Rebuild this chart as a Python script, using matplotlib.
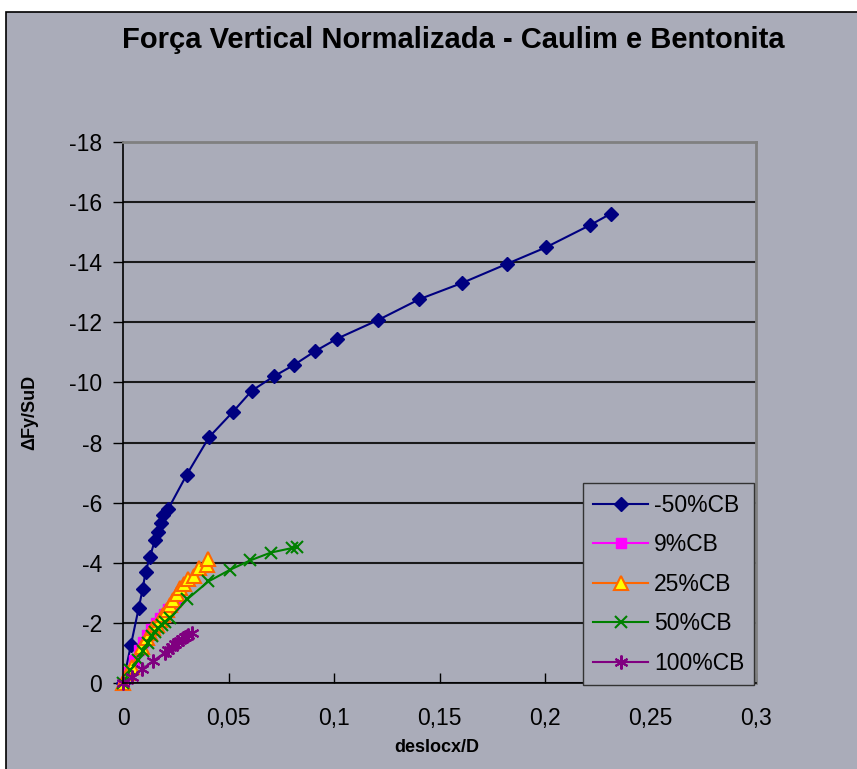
import matplotlib
matplotlib.use("Agg")
import matplotlib.pyplot as plt
from matplotlib.patches import Rectangle

plt.rcParams['font.family'] = ['Liberation Sans', 'DejaVu Sans']
plt.rcParams['axes.unicode_minus'] = False

# -50%CB
x_m50 = [0, 0.0037, 0.0074, 0.0093, 0.0107, 0.0127, 0.0152, 0.0165, 0.0179, 0.0191,
         0.0215, 0.0302, 0.0408, 0.0522, 0.0611, 0.0717, 0.0812, 0.0908, 0.1016, 0.121,
         0.1405, 0.1607, 0.1818, 0.2003, 0.2215, 0.2313]
y_m50 = [0, -1.25, -2.48, -3.12, -3.70, -4.18, -4.77, -5.02, -5.32, -5.6,
         -5.8, -6.93, -8.18, -9.03, -9.73, -10.21, -10.59, -11.03, -11.46, -12.08,
         -12.77, -13.31, -13.94, -14.49, -15.24, -15.62]

# 9%CB
x_9 = [0, 0.0025, 0.005, 0.0075, 0.0095, 0.0115, 0.0135, 0.0155, 0.0175, 0.0195,
       0.0215, 0.0235, 0.0255]
y_9 = [0, -0.35, -0.75, -1.1, -1.35, -1.6, -1.8, -2.0, -2.15, -2.3,
       -2.45, -2.6, -2.75]

# 25%CB
x_25 = [0, 0.0025, 0.0041, 0.0089, 0.0112, 0.0128, 0.0144, 0.016, 0.0176, 0.0191,
        0.0207, 0.0223, 0.0239, 0.0255, 0.027, 0.029, 0.031, 0.0337, 0.0362, 0.0397,
        0.0405]
y_25 = [0, -0.33, -0.54, -1.21, -1.49, -1.67, -1.82, -1.93, -2.1, -2.27,
        -2.43, -2.6, -2.77, -2.97, -3.16, -3.3, -3.47, -3.57, -3.82, -3.93,
        -4.12]

# 50%CB
x_50 = [0, 0.0035, 0.0073, 0.0096, 0.012, 0.0136, 0.0152, 0.0168, 0.0184, 0.0199,
        0.0223, 0.0305, 0.0405, 0.0508, 0.0603, 0.0701, 0.0801, 0.0824]
y_50 = [0, -0.43, -0.75, -1.08, -1.34, -1.55, -1.7, -1.82, -1.93, -2.04,
        -2.16, -2.79, -3.38, -3.77, -4.08, -4.34, -4.49, -4.54]

# 100%CB
x_100 = [0, 0.0045, 0.0089, 0.0144, 0.0199, 0.0215, 0.0231, 0.0247, 0.0262, 0.0279,
         0.0294, 0.031, 0.0326]
y_100 = [0, -0.2, -0.45, -0.74, -1.01, -1.1, -1.21, -1.3, -1.38, -1.46,
         -1.52, -1.6, -1.66]

xticks = [0, 0.05, 0.1, 0.15, 0.2, 0.25, 0.3]
xtick_labels = ['0', '0,05', '0,1', '0,15', '0,2', '0,25', '0,3']
yticks = [0, -2, -4, -6, -8, -10, -12, -14, -16, -18]

bg = '#aaacb9'
W, H = 857, 769
fig = plt.figure(figsize=(W / 100, H / 100), dpi=100)
fig.patch.set_facecolor('white')
fig.patches.append(Rectangle((6 / W, -0.1), 1.2, 1.1 - 12 / H, transform=fig.transFigure,
                             facecolor=bg, edgecolor='black', linewidth=1.2, zorder=-10))

ax = fig.add_axes([123 / W, 1 - 683 / H, (756 - 123) / W, (683 - 142) / H])
ax.set_facecolor(bg)

ax.plot(x_m50, y_m50, color='#000080', marker='D', markersize=7, lw=1.5, label='-50%CB', clip_on=False)
ax.plot(x_9, y_9, color='#ff00ff', marker='s', markersize=7, lw=1.5, label='9%CB', clip_on=False)
ax.plot(x_25, y_25, color='#ff6600', marker='^', markersize=10, markerfacecolor='#ffff00',
        markeredgecolor='#ff6600', markeredgewidth=1.5, lw=1.5, label='25%CB', clip_on=False)
ax.plot(x_50, y_50, color='#008000', marker='x', markersize=9, markeredgewidth=1.5, lw=1.5,
        label='50%CB', clip_on=False)
ax.plot(x_100, y_100, color='#800080', marker=(6, 2, 0), markersize=10, markeredgewidth=1.5,
        lw=1.5, label='100%CB', clip_on=False)

ax.set_xlim(0, 0.3)
ax.set_ylim(0, -18)
ax.set_xticks(xticks)
ax.set_xticklabels(xtick_labels)
ax.set_yticks(yticks)
ax.set_yticklabels([str(v) for v in yticks])
ax.tick_params(axis='x', direction='in', length=7, width=1, labelsize=16.5, pad=17, colors='black')
ax.tick_params(axis='y', direction='out', length=7, width=1, labelsize=16.5, pad=8)
ax.yaxis.grid(True, color='#1a1a1a', lw=1.5)
ax.set_axisbelow(True)
for s in ['top', 'right']:
    ax.spines[s].set_color('#808080')
    ax.spines[s].set_linewidth(2)
for s in ['left', 'bottom']:
    ax.spines[s].set_color('black')
    ax.spines[s].set_linewidth(1.2)

fig.text(453 / W, 1 - 40 / H, 'Força Vertical Normalizada - Caulim e Bentonita',
         ha='center', va='center', fontsize=21, fontweight='bold')
fig.text(437 / W, 1 - 748 / H, 'deslocx/D', ha='center', va='center', fontsize=13, fontweight='bold')
fig.text(30 / W, 1 - 412 / H, 'ΔFy/SuD', ha='center', va='center', fontsize=13,
         fontweight='bold', rotation=90)

leg = ax.legend(loc='lower left', bbox_to_anchor=((583 - 123) / (756 - 123), -2 / (683 - 142),
                                                   (754 - 583) / (756 - 123), (683 - 484) / (683 - 142)),
                mode='expand', fontsize=16.5, frameon=True, fancybox=False, handlelength=2.4,
                labelspacing=0.72, borderaxespad=0, borderpad=0.45, handletextpad=0.25)
leg.get_frame().set_facecolor(bg)
leg.get_frame().set_edgecolor('#333333')
leg.get_frame().set_alpha(1)

fig.savefig('out.png', dpi=100, facecolor=fig.get_facecolor())
